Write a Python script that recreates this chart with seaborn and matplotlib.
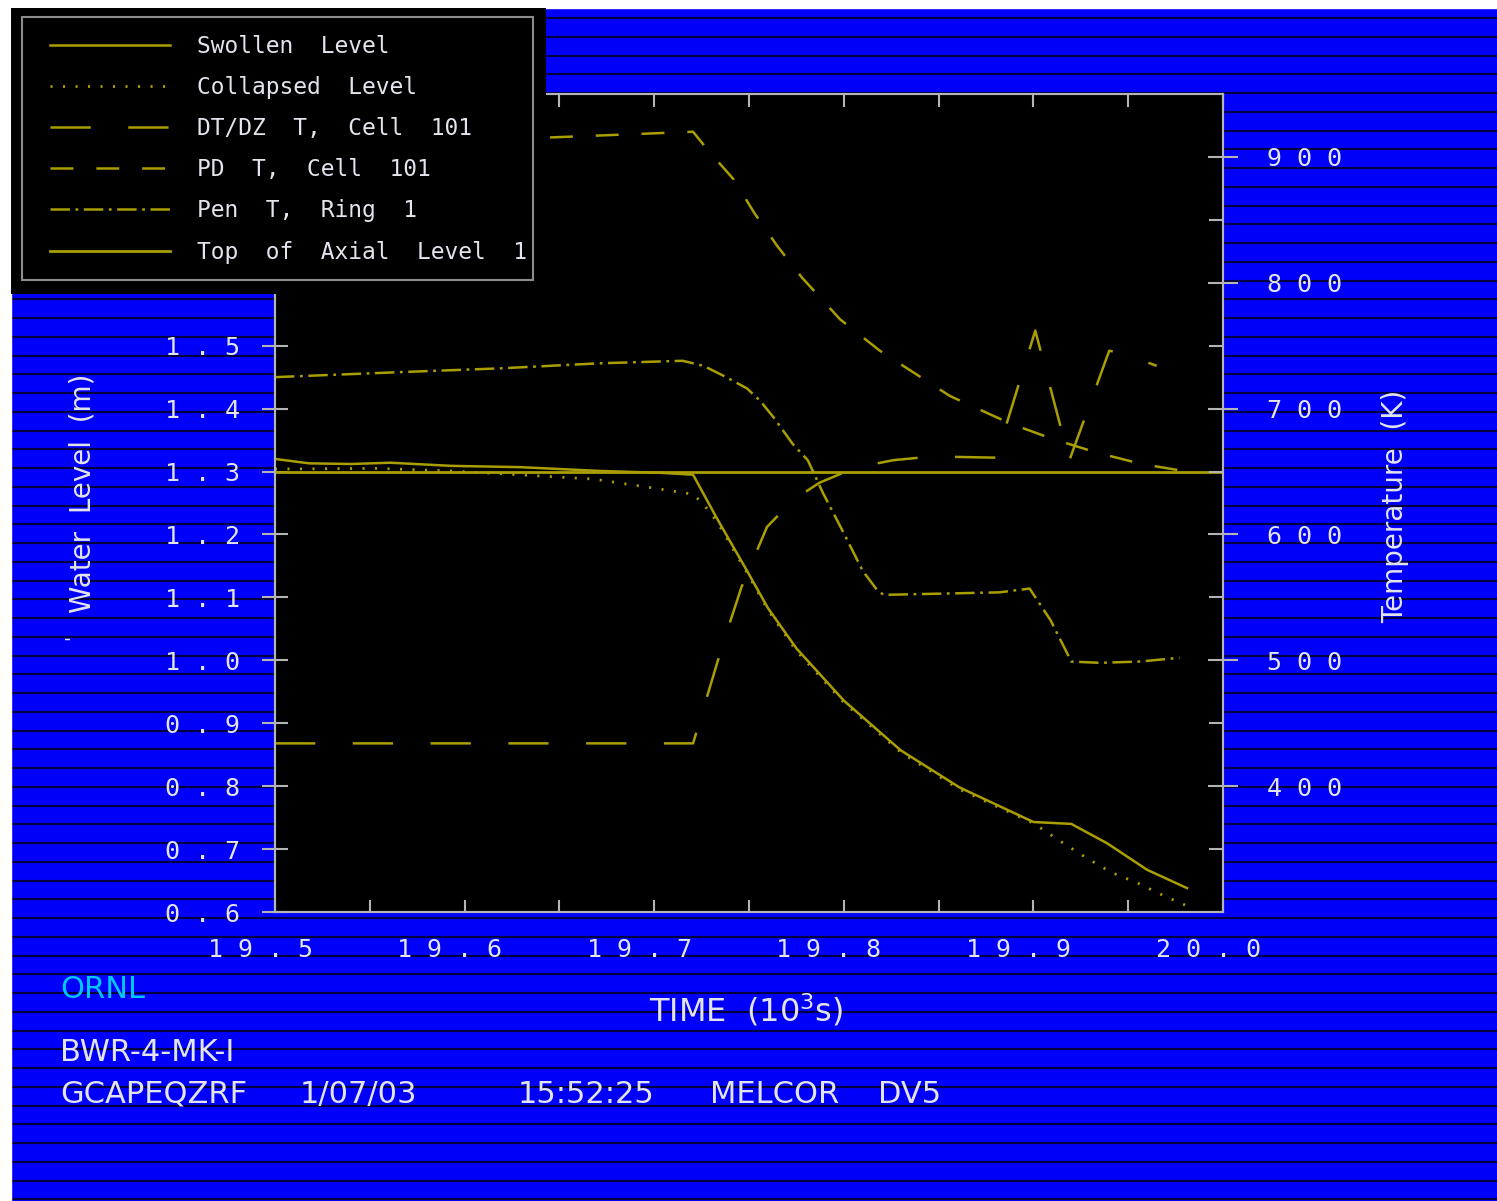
import numpy as np
import matplotlib
matplotlib.use('Agg')
import matplotlib.pyplot as plt
from matplotlib.patches import Rectangle
from matplotlib.font_manager import FontProperties
from matplotlib.transforms import ScaledTranslation
import seaborn as sns

# --- Datos (tiempo en 10^3 s) ---
time_swollen = [19.500, 19.518, 19.540, 19.561, 19.593, 19.629, 19.671, 19.703, 19.7205,
                19.733, 19.749, 19.760, 19.775, 19.800, 19.830, 19.861, 19.900, 19.920,
                19.939, 19.960, 19.981]
swollen_level = [1.320, 1.313, 1.312, 1.314, 1.309, 1.307, 1.301, 1.298, 1.295,
                 1.226, 1.142, 1.083, 1.019, 0.936, 0.857, 0.798, 0.743, 0.740,
                 0.709, 0.667, 0.638]

time_collapsed = [19.500, 19.554, 19.592, 19.622, 19.668, 19.699, 19.7205, 19.726, 19.733,
                  19.749, 19.760, 19.775, 19.800, 19.830, 19.861, 19.900, 19.916, 19.928,
                  19.941, 19.955, 19.968, 19.980]
collapsed_level = [1.304, 1.305, 1.301, 1.296, 1.288, 1.274, 1.264, 1.248, 1.221,
                   1.139, 1.080, 1.015, 0.933, 0.854, 0.795, 0.741, 0.709, 0.686,
                   0.663, 0.646, 0.627, 0.611]

time_dtdz = [19.500, 19.7205, 19.736, 19.746, 19.7595, 19.773, 19.787, 19.806, 19.826,
             19.8465, 19.881, 19.882, 19.901, 19.919, 19.940, 19.947, 19.965]
temp_dtdz = [434, 434, 512, 558, 606, 627, 641, 653, 659,
             662, 661, 669, 762, 659, 746, 744, 734]

time_pd = [19.500, 19.560, 19.620, 19.671, 19.7205, 19.728, 19.742, 19.753, 19.765,
           19.778, 19.798, 19.819, 19.856, 19.888, 19.910, 19.9335, 19.957, 19.981]
temp_pd = [912, 913, 914, 917, 920, 906, 882, 855, 829,
           804, 771, 746, 710, 688, 676, 665, 656, 650]

time_pen = [19.500, 19.566, 19.619, 19.671, 19.715, 19.726, 19.738, 19.749, 19.756,
            19.763, 19.773, 19.781, 19.789, 19.800, 19.810, 19.8175, 19.821, 19.852,
            19.882, 19.898, 19.909, 19.920, 19.935, 19.956, 19.977]
temp_pen = [725, 729, 732, 736, 738, 734, 725, 716, 706,
            693, 672, 659, 633, 601, 571, 556, 552, 553,
            554, 557, 532, 499, 498, 499, 502]

time_axial = [19.5, 20.0]
top_axial = [1.3, 1.3]

x_ticks = [19.5, 19.6, 19.7, 19.8, 19.9, 20.0]
x_tick_labels = ['1 9 . 5', '1 9 . 6', '1 9 . 7', '1 9 . 8', '1 9 . 9', '2 0 . 0']
x_minor = [19.55, 19.65, 19.75, 19.85, 19.95]
lev_ticks = [0.6, 0.7, 0.8, 0.9, 1.0, 1.1, 1.2, 1.3, 1.4, 1.5]
lev_tick_labels = ['0 . 6', '0 . 7', '0 . 8', '0 . 9', '1 . 0', '1 . 1', '1 . 2',
                   '1 . 3', '1 . 4', '1 . 5']
temp_ticks = [400, 500, 600, 700, 800, 900]
temp_tick_labels = ['4 0 0', '5 0 0', '6 0 0', '7 0 0', '8 0 0', '9 0 0']
temp_minor = [350, 450, 550, 650, 750, 850]

labels = ['Swollen  Level', 'Collapsed  Level', 'DT/DZ  T,  Cell  101',
          'PD  T,  Cell  101', 'Pen  T,  Ring  1', 'Top  of  Axial  Level  1']

# --- Estilo ---
W, H = 1497, 1201
AZUL = '#0000fa'
LINEA = '#aa9e00'
GRIS = '#b4b4b4'
TXT = '#e4e4ee'
plt.rcParams['lines.scale_dashes'] = False
mono = 'DejaVu Sans Mono'

fig = plt.figure(figsize=(W / 100, H / 100), dpi=100)
fig.patch.set_facecolor(AZUL)

# fondo con franjas horizontales
bg = fig.add_axes([0, 0, 1, 1], zorder=-10)
bg.set_xlim(0, W)
bg.set_ylim(H, 0)
bg.set_axis_off()
bg.hlines(np.arange(18, H, 18.75), 0, W, colors='#000040', linewidth=1.5, zorder=1)
bg.axvspan(0, 11, color='white', zorder=3)
bg.axhspan(0, 8, color='white', zorder=3)

# ejes principales
ax = fig.add_axes([275 / W, 1 - 912 / H, 948 / W, 818 / H])
ax.set_facecolor('black')
ax2 = ax.twinx()

sns.lineplot(x=time_swollen, y=swollen_level, ax=ax, color=LINEA, linewidth=1.8,
             label=labels[0], legend=False)
sns.lineplot(x=time_collapsed, y=collapsed_level, ax=ax, color=LINEA, linewidth=2.0,
             linestyle=(0, (1.5, 7.5)), label=labels[1], legend=False)
sns.lineplot(x=time_axial, y=top_axial, ax=ax, color=LINEA, linewidth=2.0,
             label=labels[5], legend=False)
sns.lineplot(x=time_dtdz, y=temp_dtdz, ax=ax2, color=LINEA, linewidth=1.8,
             linestyle=(0, (29, 27)), label=labels[2], legend=False)
sns.lineplot(x=time_pd, y=temp_pd, ax=ax2, color=LINEA, linewidth=1.8,
             linestyle=(0, (16.5, 16.5)), label=labels[3], legend=False)
sns.lineplot(x=time_pen, y=temp_pen, ax=ax2, color=LINEA, linewidth=1.8,
             linestyle=(0, (14, 4, 2, 4)), label=labels[4], legend=False)

ax.set_xlim(19.5, 20.0)
ax.set_ylim(0.6, 1.9)
ax2.set_ylim(300, 950)

ax.set_xticks(x_ticks, labels=x_tick_labels, fontfamily=mono, fontsize=18, color=TXT)
ax.set_xticks(x_minor, minor=True)
ax.set_yticks(lev_ticks, labels=lev_tick_labels, fontfamily=mono, fontsize=18, color=TXT)
ax2.set_yticks(temp_ticks, labels=temp_tick_labels, fontfamily=mono, fontsize=18, color=TXT)
ax2.set_yticks(temp_minor, minor=True)

ax.tick_params(axis='x', which='both', direction='in', top=True, bottom=True,
               length=9, width=1.5, color=GRIS, pad=19)
ax.tick_params(axis='y', which='major', direction='inout', left=True, right=False,
               length=19, width=1.5, color=GRIS, pad=16)
ax2.tick_params(axis='y', which='major', direction='inout', length=21, width=1.5,
                color=GRIS, pad=21)
ax2.tick_params(axis='y', which='minor', direction='in', length=10, width=1.5, color=GRIS)

# las etiquetas del eje x van algo corridas a la izquierda en el original
shift = ScaledTranslation(-15 / 100, 0, fig.dpi_scale_trans)
for t in ax.get_xticklabels():
    t.set_transform(t.get_transform() + shift)

for a in (ax, ax2):
    for s in a.spines.values():
        s.set_color(GRIS)
        s.set_linewidth(1.5)

ax.set_xlabel('TIME  (10$^3$s)', fontsize=23, color=TXT, va='center')
ax.xaxis.set_label_coords((746 - 275) / 948, (912 - 1010) / 818)
ax.set_ylabel('Water  Level  (m)', fontsize=20, color=TXT, va='center')
ax.yaxis.set_label_coords((82 - 275) / 948, (912 - 493) / 818)
ax2.set_ylabel('Temperature  (K)', fontsize=20, color=TXT, va='center')
ax2.yaxis.set_label_coords((1395 - 275) / 948, (912 - 506) / 818)
fig.text(72 / W, 1 - 638 / H, "'", fontsize=13, color=TXT, rotation=90,
         ha='center', va='center')

# --- Leyenda sobre fondo negro ---
fig.patches.append(Rectangle((11 / W, 1 - 294 / H), 535 / W, 286 / H,
                             transform=fig.transFigure, facecolor='black',
                             edgecolor='none', zorder=4))
fig.patches.append(Rectangle((22 / W, 1 - 280 / H), 511 / W, 263 / H,
                             transform=fig.transFigure, facecolor='none',
                             edgecolor='#8c8c8c', linewidth=1.5, zorder=4.5))
h1, _ = ax.get_legend_handles_labels()
h2, _ = ax2.get_legend_handles_labels()
handles = [h1[0], h1[1], h2[0], h2[1], h2[2], h1[2]]
leg = fig.legend(handles, labels, loc='upper left',
                 bbox_to_anchor=(50 / W, 1 - 35 / H), bbox_transform=fig.transFigure,
                 borderaxespad=0, borderpad=0, frameon=False,
                 prop=FontProperties(family=mono, size=16.5),
                 handlelength=120 / 22.9, handletextpad=27 / 22.9, labelspacing=0.79,
                 labelcolor=TXT)
leg.set_zorder(5)

# --- Textos inferiores ---
def ftext(x, y, s, color=TXT):
    fig.text(x / W, 1 - y / H, s, fontsize=22, color=color, ha='left', va='baseline')

ftext(60, 998, 'ORNL', color='#00c8ff')
ftext(60, 1061, 'BWR-4-MK-I')
ftext(60, 1103, 'GCAPEQZRF')
ftext(300, 1103, '1/07/03')
ftext(518, 1103, '15:52:25')
ftext(710, 1103, 'MELCOR')
ftext(878, 1103, 'DV5')

fig.savefig('out.png', dpi=100, facecolor=fig.get_facecolor())
